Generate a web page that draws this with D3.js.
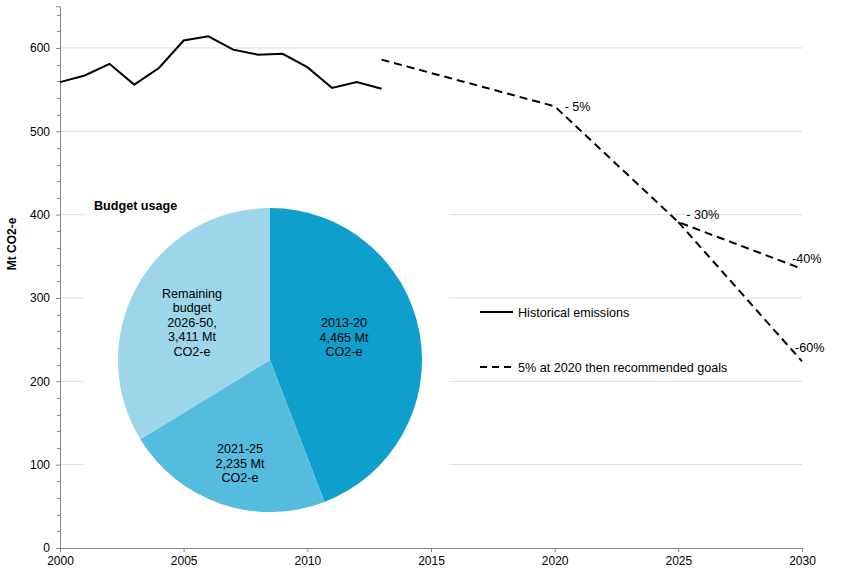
<!DOCTYPE html>
<html>
<head>
<meta charset="utf-8">
<script src="https://cdn.jsdelivr.net/npm/d3@7"></script>
<style>
  body { margin: 0; background: #fff; }
  svg { font-family: "Liberation Sans", Arial, sans-serif; }
</style>
</head>
<body>
<div id="chart"></div>
<script>
// historical emissions, Mt CO2-e
const histYears = [2000, 2001, 2002, 2003, 2004, 2005, 2006, 2007, 2008, 2009, 2010, 2011, 2012, 2013];
const histValues = [559, 567, 581, 556, 576, 609, 614, 598, 592, 593, 577, 552, 559, 551];

// 5% at 2020 then recommended goals
const goalYears = [2013, 2020, 2025, 2030];
const goalValues40 = [586, 530, 391, 335];
const goalYears60 = [2025, 2030];
const goalValues60 = [391, 224];

const goalLabels = ["- 5%", "- 30%", "-40%", "-60%"];
const goalLabelYears = [2020, 2025, 2030, 2030];
const goalLabelValues = [530, 391, 335, 224];

// budget pie
const pieNames = [["2013-20", "4,465 Mt", "CO2-e"], ["2021-25", "2,235 Mt", "CO2-e"], ["Remaining", "budget", "2026-50,", "3,411 Mt", "CO2-e"]];
const pieValues = [4465, 2235, 3411];
const pieColors = ["#0f9fcc", "#55bcde", "#9dd6ea"];

const yTicks = [0, 100, 200, 300, 400, 500, 600];
const xTicks = [2000, 2005, 2010, 2015, 2020, 2025, 2030];

const width = 846, height = 578;
const fs = 12.6;
const svg = d3.select("#chart").append("svg")
  .attr("width", width).attr("height", height);

const x = d3.scaleLinear().domain([2000, 2030]).range([60, 802]);
const y = d3.scaleLinear().domain([0, 650]).range([548, 6.3]);

// gridlines
svg.append("g").selectAll("line")
  .data(yTicks.filter(d => d > 0))
  .enter().append("line")
  .attr("x1", x(2000)).attr("x2", x(2030))
  .attr("y1", d => y(d)).attr("y2", d => y(d))
  .attr("stroke", "#dcdcdc").attr("stroke-width", 1);

// minor y ticks
svg.append("g").selectAll("line")
  .data(d3.range(0, 660, 20).filter(d => d % 100 !== 0))
  .enter().append("line")
  .attr("x1", x(2000) - 3).attr("x2", x(2000))
  .attr("y1", d => Math.round(y(d)) + 0.5).attr("y2", d => Math.round(y(d)) + 0.5)
  .attr("stroke", "#888");

// y axis
let yAxis = d3.axisLeft(y).tickValues(yTicks).tickSize(4).tickPadding(6);
let gY = svg.append("g").attr("transform", "translate(" + x(2000) + ",0)").call(yAxis);
gY.select(".domain").attr("stroke", "#888");
gY.selectAll(".tick line").attr("stroke", "#888");
gY.selectAll("text").attr("font-size", 12).attr("fill", "#000").attr("font-family", "Liberation Sans, Arial, sans-serif");

// x axis
let xAxis = d3.axisBottom(x).tickValues(xTicks).tickFormat(d3.format("d")).tickSize(4).tickPadding(4);
let gX = svg.append("g").attr("transform", "translate(0," + y(0) + ")").call(xAxis);
gX.select(".domain").attr("stroke", "#888");
gX.selectAll(".tick line").attr("stroke", "#888");
gX.selectAll("text").attr("font-size", 12).attr("fill", "#000").attr("font-family", "Liberation Sans, Arial, sans-serif");

// y axis title
svg.append("text")
  .attr("transform", "translate(16," + 244 + ") rotate(-90)")
  .attr("text-anchor", "middle")
  .attr("font-size", 12).attr("font-weight", "bold")
  .text("Mt CO2-e");

// lines
let line = d3.line().x(d => x(d[0])).y(d => y(d[1]));
svg.append("path")
  .datum(d3.zip(histYears, histValues))
  .attr("d", line).attr("fill", "none")
  .attr("stroke", "#000").attr("stroke-width", 2);

svg.append("path")
  .datum(d3.zip(goalYears, goalValues40))
  .attr("d", line).attr("fill", "none")
  .attr("stroke", "#000").attr("stroke-width", 2)
  .attr("stroke-dasharray", "8,5");

svg.append("path")
  .datum(d3.zip(goalYears60, goalValues60))
  .attr("d", line).attr("fill", "none")
  .attr("stroke", "#000").attr("stroke-width", 2)
  .attr("stroke-dasharray", "8,5");

// percentage labels
const labelDx = [10, 8, -10, -7];
const labelDy = [5, -3, -6, -9];
svg.append("g").selectAll("text")
  .data(goalLabels)
  .enter().append("text")
  .attr("x", (d, i) => x(goalLabelYears[i]) + labelDx[i])
  .attr("y", (d, i) => y(goalLabelValues[i]) + labelDy[i])
  .attr("font-size", fs)
  .text(d => d);

// legend
const legend = svg.append("g");
legend.append("line")
  .attr("x1", 480).attr("x2", 513).attr("y1", 312).attr("y2", 312)
  .attr("stroke", "#000").attr("stroke-width", 2);
legend.append("text").attr("x", 518).attr("y", 316.5).attr("font-size", fs).text("Historical emissions");
legend.append("line")
  .attr("x1", 480).attr("x2", 513).attr("y1", 367).attr("y2", 367)
  .attr("stroke", "#000").attr("stroke-width", 2).attr("stroke-dasharray", "7,5");
legend.append("text").attr("x", 518).attr("y", 371.5).attr("font-size", fs).text("5% at 2020 then recommended goals");

// pie inset with white background
svg.append("rect")
  .attr("x", 84).attr("y", 190).attr("width", 365).attr("height", 340)
  .attr("fill", "#fff");

svg.append("text")
  .attr("x", 94).attr("y", 210)
  .attr("font-size", fs).attr("font-weight", "bold")
  .text("Budget usage");

const pieG = svg.append("g").attr("transform", "translate(270,360)");
const pie = d3.pie().sort(null).value(d => d);
const arc = d3.arc().innerRadius(0).outerRadius(152);
const arcs = pie(pieValues);

pieG.selectAll("path")
  .data(arcs)
  .enter().append("path")
  .attr("d", arc)
  .attr("fill", (d, i) => pieColors[i]);

const labelPos = [[74, -23], [-30, 103], [-78, -38]];
pieG.selectAll("text.slice")
  .data(arcs)
  .enter().append("text")
  .attr("class", "slice")
  .attr("text-anchor", "middle")
  .attr("font-size", fs)
  .attr("transform", (d, i) => "translate(" + labelPos[i][0] + "," + labelPos[i][1] + ")")
  .each(function (d, i) {
    let t = d3.select(this);
    let lines = pieNames[i];
    lines.forEach((s, j) => {
      t.append("tspan").attr("x", 0).attr("y", (j - (lines.length - 1) / 2) * 14.5 + 4.5).text(s);
    });
  });
</script>
</body>
</html>
